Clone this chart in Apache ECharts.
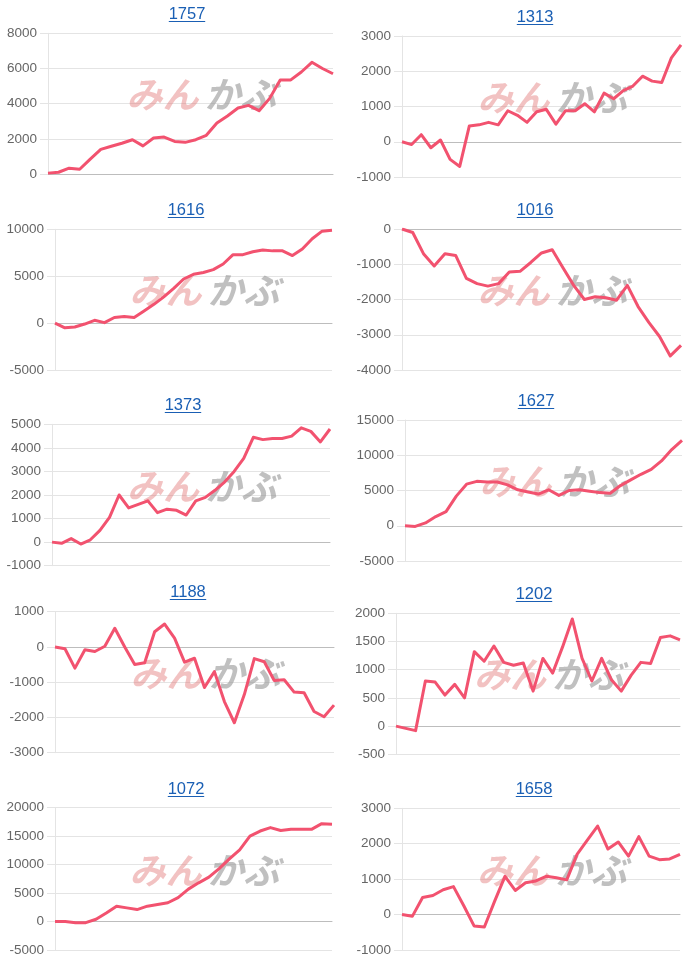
<!DOCTYPE html>
<html>
<head>
<meta charset="utf-8">
<script src="https://cdn.jsdelivr.net/npm/echarts@6/dist/echarts.min.js"></script>
<style>
html,body{margin:0;padding:0;background:#fff;}
#chart{width:700px;height:966px;}
</style>
</head>
<body>
<div id="chart"></div>
<script>
// ---- data ----
const codes = ['1757','1313','1616','1016','1373','1627','1188','1202','1072','1658'];

const s1757 = [50,100,330,270,850,1400,1580,1750,1950,1600,2050,2100,1850,1800,1950,2200,2900,3300,3750,3900,3600,4300,5350,5350,5800,6350,6000,5700];
const s1313 = [0,-80,200,-170,50,-500,-700,450,480,550,480,880,750,550,850,920,500,880,880,1080,850,1380,1220,1450,1580,1860,1720,1680,2380,2750];
const s1616 = [0,-500,-420,-100,300,50,600,700,600,1300,2000,2800,3700,4700,5200,5400,5700,6300,7300,7300,7600,7800,7700,7700,7200,7900,9000,9800,9900];
const s1016 = [0,-100,-700,-1050,-700,-750,-1400,-1550,-1620,-1550,-1220,-1200,-950,-680,-590,-1100,-1600,-2000,-1920,-1950,-2020,-1600,-2200,-2650,-3050,-3600,-3300];
const s1373 = [0,-50,150,-80,100,500,1050,2000,1450,1600,1750,1250,1400,1350,1150,1750,1900,2200,2550,3000,3550,4450,4350,4400,4400,4500,4850,4700,4250,4800];
const s1627 = [0,-100,400,1300,2000,4200,5900,6300,6200,6200,5800,5100,4800,4500,5100,4300,5000,5100,4900,4700,4600,5700,6500,7300,8000,9200,10800,12100];
const s1188 = [0,-50,-600,-80,-130,20,530,0,-500,-450,430,650,250,-430,-320,-1150,-700,-1550,-2150,-1350,-330,-420,-950,-930,-1280,-1300,-1830,-1980,-1650];
const s1202 = [0,-40,-80,800,780,550,740,500,1320,1150,1420,1130,1080,1120,620,1200,940,1400,1900,1200,800,1200,820,620,900,1130,1110,1570,1600,1530];
const s1072 = [0,0,-200,-200,400,1500,2700,2400,2100,2700,3000,3300,4200,5700,6800,7800,9300,11000,12600,15000,15900,16500,16000,16200,16200,16200,17200,17100];
const s1658 = [0,-50,480,540,700,790,250,-320,-350,380,1080,680,900,950,1080,1040,980,1700,2100,2500,1850,2050,1650,2200,1650,1550,1570,1700];

const yMins  = [0,-1000,-5000,-4000,-1000,-5000,-3000,-500,-5000,-1000];
const yMaxs  = [8000,3000,10000,0,5000,15000,1000,2000,20000,3000];
const ySteps = [2000,1000,5000,1000,1000,5000,1000,500,5000,1000];

const seriesData = [s1757,s1313,s1616,s1016,s1373,s1627,s1188,s1202,s1072,s1658];

// ---- layout (pixels) ----
const layout = [
  {l:48, r:333, t:33.3, b:174,   tx:187, ty:14},
  {l:402,r:681, t:36,   b:177,   tx:535, ty:17},
  {l:55, r:332, t:229.3,b:370,   tx:186, ty:210},
  {l:402,r:681, t:229,  b:370,   tx:535, ty:210},
  {l:52, r:330, t:424.3,b:565.7, tx:183, ty:405},
  {l:405,r:682, t:420,  b:561,   tx:536, ty:401},
  {l:55, r:334, t:611.7,b:752.7, tx:188, ty:592},
  {l:396,r:680, t:613.3,b:754.3, tx:534, ty:594},
  {l:55, r:332, t:807.7,b:950,   tx:186, ty:789},
  {l:402,r:680, t:808.3,b:950,   tx:534, ty:789}
];

const LINE = '#f2526f';
const GRIDC = '#e4e4e4';
const ZEROC = '#bdbdbd';
const LABELC = '#666';
const TITLEC = '#1a5fb4';
const FONT = '"Liberation Sans", Arial, sans-serif';

const grids = [], xAxes = [], yAxes = [], series = [], graphics = [];

layout.forEach((p, i) => {
  grids.push({left:p.l, top:p.t, width:p.r - p.l, height:p.b - p.t, containLabel:false});
  xAxes.push({
    type:'category', gridIndex:i, boundaryGap:false,
    axisLine:{show:true, onZero:true, lineStyle:{color:ZEROC, width:1}},
    axisTick:{show:false}, axisLabel:{show:false}, splitLine:{show:false}
  });
  yAxes.push({
    type:'value', gridIndex:i, min:yMins[i], max:yMaxs[i], interval:ySteps[i],
    axisLine:{show:true, lineStyle:{color:GRIDC}},
    axisTick:{show:true, length:8, lineStyle:{color:GRIDC}},
    axisLabel:{color:LABELC, fontSize:13.5, fontFamily:FONT, margin:11, formatter:v => String(v)},
    splitLine:{show:true, lineStyle:{color:GRIDC, width:1}}
  });
  series.push({
    type:'line', xAxisIndex:i, yAxisIndex:i, data:seriesData[i],
    showSymbol:false, symbol:'none', smooth:false, z:5,
    lineStyle:{color:LINE, width:3, join:'round'},
    animation:false
  });
  // title (link-style, underlined)
  const tw = codes[i].length * 9.1;
  graphics.push({
    type:'text', z:10,
    style:{text:codes[i], x:p.tx, y:p.ty, fill:TITLEC, font:'16.5px ' + FONT, textAlign:'center', textVerticalAlign:'middle'}
  });
  graphics.push({
    type:'line', z:10,
    shape:{x1:p.tx - tw/2, y1:p.ty + 7.5, x2:p.tx + tw/2, y2:p.ty + 7.5},
    style:{stroke:TITLEC, lineWidth:1.2}
  });
  // watermark
  const cx = (p.l + p.r) / 2 + 12, cy = (p.t + p.b) / 2 - 9;
  graphics.push({
    type:'text', z:1, silent:true,
    style:{text:'みん', x:cx - 4, y:cy, fill:'rgba(226,120,120,0.45)', font:'italic bold 36px "Noto Sans CJK JP"', textAlign:'right', textVerticalAlign:'middle'}
  });
  graphics.push({
    type:'text', z:1, silent:true,
    style:{text:'かぶ', x:cx + 2, y:cy, fill:'rgba(150,150,150,0.6)', font:'italic bold 36px "Noto Sans CJK JP"', textAlign:'left', textVerticalAlign:'middle'}
  });
});

const chart = echarts.init(document.getElementById('chart'), null, {renderer:'canvas'});
chart.setOption({
  animation:false,
  backgroundColor:'#fff',
  grid:grids, xAxis:xAxes, yAxis:yAxes, series:series,
  graphic:{elements:graphics}
});
</script>
</body>
</html>
